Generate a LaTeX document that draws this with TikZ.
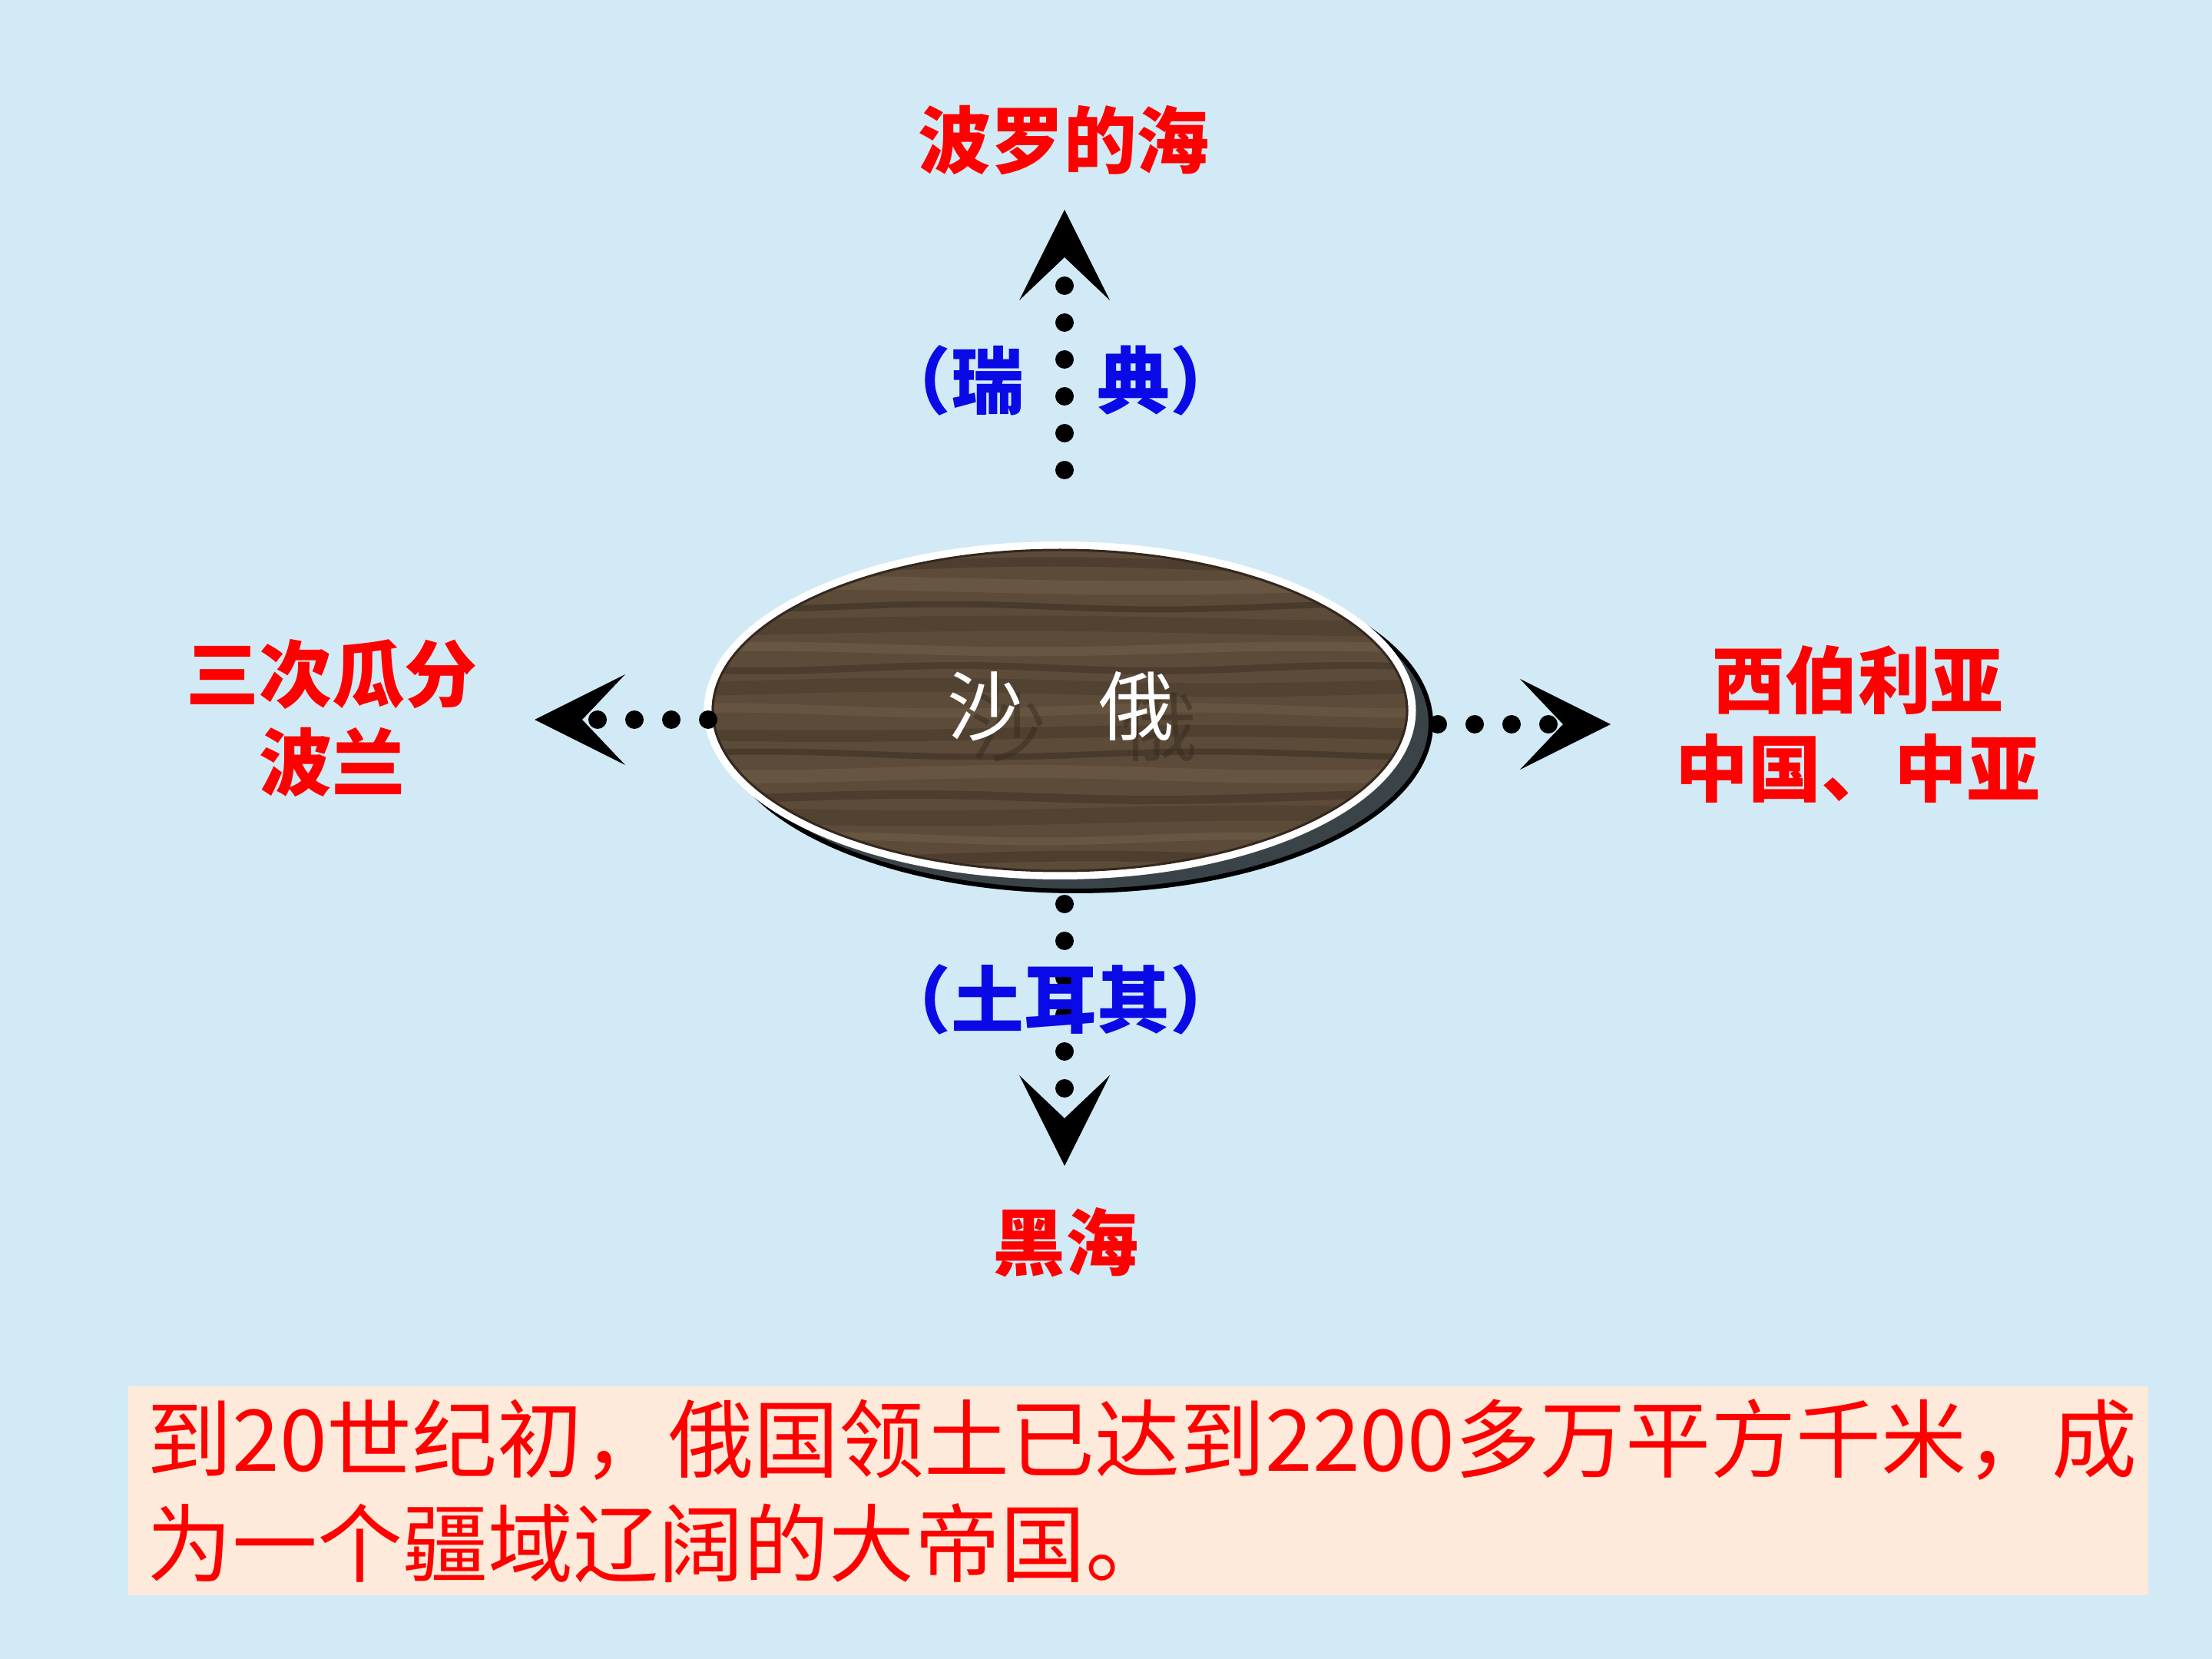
\documentclass[tikz,border=0pt]{standalone}
\usepackage{fontspec}
\newfontfamily\cjk{Noto Sans CJK SC}
\usepackage{xcolor}
\usepackage{tikz}
\usetikzlibrary{arrows.meta,shapes.geometric,positioning}

\definecolor{bgblue}{RGB}{210,234,245}
\definecolor{woodbase}{RGB}{92,75,57}
\definecolor{wooddark}{RGB}{52,40,30}
\definecolor{woodlight}{RGB}{130,112,84}
\definecolor{rimgray}{RGB}{58,68,72}
\definecolor{notered}{RGB}{255,0,0}
\definecolor{labelblue}{RGB}{10,10,230}
\definecolor{notefill}{RGB}{253,234,218}

\begin{document}
\begin{tikzpicture}[
  lbl/.style     = {font=\cjk\bfseries\fontsize{27}{32.7}\selectfont,
                    text=#1, align=center, inner sep=0pt},
  dotarr/.style  = {-{Stealth[length=1.18cm, width=1.18cm, inset=0.56cm, line width=0pt]},
                    line width=0.24cm, line cap=round,
                    dash pattern=on 0pt off 0.48cm, draw=black},
  woodbox/.style = {ellipse, minimum width=9.17cm, minimum height=4.30cm,
                    inner sep=0pt, fill=woodbase, line width=0.1cm},
  plate/.style   = {font=\cjk\fontsize{28}{33}\selectfont, text=#1, inner sep=0pt},
  notebox/.style = {fill=notefill, minimum width=26.3cm, minimum height=2.72cm,
                    text width=25.8cm, inner xsep=0.25cm, align=left, text=notered,
                    font=\cjk\fontsize{31.6}{38.7}\selectfont},
]
\fill[bgblue] (0,0) rectangle (28.8,-21.6);
\useasboundingbox (0,0) rectangle (28.8,-21.6);

% rim below the plate
\draw[draw=black, line width=0.06cm, fill=rimgray]
    (14.01,-9.42) ellipse [x radius=4.62cm, y radius=2.18cm];
\node[woodbox] (russia) at (13.80,-9.25) {};
% wood grain
\begin{scope}
  \clip (russia.center) ellipse [x radius=4.585cm, y radius=2.15cm];
  \foreach \y/\w/\c/\o/\f in {-7.35/0.12/wooddark/0.35/55, -7.62/0.18/woodlight/0.3/40,
      -7.9/0.08/wooddark/0.45/65, -8.15/0.2/wooddark/0.25/35, -8.45/0.12/woodlight/0.3/50,
      -8.7/0.09/wooddark/0.4/70, -8.95/0.18/wooddark/0.25/45, -9.25/0.12/woodlight/0.25/60,
      -9.55/0.15/wooddark/0.3/38, -9.82/0.08/wooddark/0.45/62, -10.08/0.17/woodlight/0.28/48,
      -10.38/0.11/wooddark/0.38/56, -10.62/0.2/wooddark/0.25/42, -10.92/0.1/woodlight/0.3/66,
      -11.18/0.14/wooddark/0.35/52}
    \draw[\c, opacity=\o, line width=\w cm]
      plot[domain=9:18.6, samples=40, smooth, variable=\t]
      (\t, {\y + 0.035*sin(\t*\f + \y*90)});
\end{scope}
\draw[white, line width=0.1cm]
    (russia.center) ellipse [x radius=4.585cm, y radius=2.15cm];
\draw[wooddark, line width=0.03cm]
    (russia.center) ellipse [x radius=4.52cm, y radius=2.09cm];
\node[plate=wooddark, opacity=0.45] (russiashade) at (14.11,-9.47) {沙　俄};
\node[plate=white] (russialbl) at (13.81,-9.20) {沙　俄};

\coordinate (tipN) at (13.86,-2.73);
\coordinate (tipS) at (13.86,-15.18);
\coordinate (tipW) at (6.96,-9.37);
\coordinate (tipE) at (20.97,-9.43);
\draw[dotarr] ([xshift=0.06cm, yshift=0.93cm]russia.north) -- (tipN);
\draw[dotarr] ([xshift=0.06cm, yshift=-0.32cm]russia.south) -- (tipS);
\draw[dotarr] ([xshift=0.055cm, yshift=-0.12cm]russia.west) -- (tipW);
\draw[dotarr] ([xshift=0.285cm, yshift=-0.18cm]russia.east) -- (tipE);

\node[lbl=notered]   (baltic)   at (13.85,-1.83)  {波罗的海};
\node[lbl=labelblue] (sweden)   at (13.81,-4.95)  {（瑞　典）};
\node[lbl=labelblue] (turkey)   at (13.81,-13.01) {（土耳其）};
\node[lbl=notered]   (blacksea) at (13.87,-16.18) {黑海};
\node[lbl=notered]   (poland)   at (4.32,-9.35)   {三次瓜分\\波兰};
\node[lbl=notered]   (siberia)  at (24.19,-9.43)  {西伯利亚\\中国、中亚};

\node[notebox] (note) at (14.815,-19.41)
    {到20世纪初，俄国领土已达到2200多万平方千米，成\\为一个疆域辽阔的大帝国。};
\end{tikzpicture}
\end{document}
